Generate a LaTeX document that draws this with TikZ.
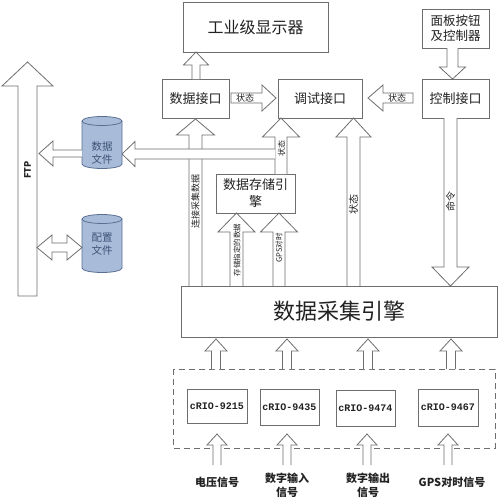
\documentclass[tikz,border=0pt]{standalone}
\usepackage{fontspec}
\setmainfont{Noto Sans CJK SC}
\newfontfamily\monof{Liberation Mono}
\definecolor{ln}{HTML}{6E6E6E}
\definecolor{tx}{HTML}{222222}
\definecolor{cylf}{HTML}{A8BCDA}
\definecolor{cyll}{HTML}{5A6F92}
\definecolor{cylt}{HTML}{3E5277}
\tikzset{
  box/.style={draw=ln, line width=0.8pt, fill=white, inner sep=0pt, text=tx, align=center},
  barrow/.style={draw=ln, line width=0.8pt, fill=white, line join=miter},
  lab/.style={text=tx, inner sep=0pt},
  rlab/.style={text=tx, inner sep=0pt, rotate=90},
  cylfill/.style={fill=cylf},
  cylline/.style={draw=cyll, line width=0.8pt}
}
% vertical arrow: x, y0, ytip, ybase, shafthalf, headhalf
\newcommand\varr[6]{\filldraw[barrow] (#1-#5,#2) -- (#1-#5,#4) -- (#1-#6,#4) -- (#1,#3) -- (#1+#6,#4) -- (#1+#5,#4) -- (#1+#5,#2);}
\newcommand\varrc[6]{\filldraw[barrow] (#1-#5,#2) -- (#1-#5,#4) -- (#1-#6,#4) -- (#1,#3) -- (#1+#6,#4) -- (#1+#5,#4) -- (#1+#5,#2) -- cycle;}
% horizontal arrow: y, x0, xtip, xbase, shafthalf, headhalf
\newcommand\harr[6]{\filldraw[barrow] (#2,#1-#5) -- (#4,#1-#5) -- (#4,#1-#6) -- (#3,#1) -- (#4,#1+#6) -- (#4,#1+#5) -- (#2,#1+#5);}
\newcommand\harrc[6]{\filldraw[barrow] (#2,#1-#5) -- (#4,#1-#5) -- (#4,#1-#6) -- (#3,#1) -- (#4,#1+#6) -- (#4,#1+#5) -- (#2,#1+#5) -- cycle;}
\newcommand\cylinder[3]{% x left, y top, y bottom
  \fill[cylfill] (#1,#2) -- (#1,#3) arc[start angle=180,end angle=360,x radius=20pt,y radius=4.5pt] -- (#1+40,#2) arc[start angle=0,end angle=180,x radius=20pt,y radius=4.5pt] -- cycle;
  \draw[cylline] (#1,#2) -- (#1,#3) arc[start angle=180,end angle=360,x radius=20pt,y radius=4.5pt] -- (#1+40,#2) arc[start angle=0,end angle=180,x radius=20pt,y radius=4.5pt] -- cycle;
  \draw[cylline] (#1,#2) arc[start angle=180,end angle=360,x radius=20pt,y radius=4.5pt];
}
\begin{document}
\begin{tikzpicture}[x=1pt,y=-1pt]
\useasboundingbox[fill=white] (0,0) rectangle (500,501);

% ---------- boxes ----------
\node[box, minimum width=145pt, minimum height=50pt, font=\fontsize{16}{18}\selectfont] (disp) at (255.5,27) {工业级显示器};
\node[box, minimum width=67pt, minimum height=39pt, font=\fontsize{12.5}{15}\selectfont] (panel) at (455.5,28.5) {面板按钮\\及控制器};
\node[box, minimum width=67pt, minimum height=39pt, font=\fontsize{13}{15}\selectfont] (dataif) at (195.5,98.5) {数据接口};
\node[box, minimum width=84pt, minimum height=39pt, font=\fontsize{13}{15}\selectfont] (dbgif) at (320,98.5) {调试接口};
\node[box, minimum width=67pt, minimum height=39pt, font=\fontsize{13}{15}\selectfont] (ctrlif) at (455.5,98.5) {控制接口};
\node[box, minimum width=79pt, minimum height=39pt, font=\fontsize{13}{17}\selectfont] (store) at (255.5,193.5) {数据存储引\\擎};

% ---------- arrows upper part ----------
\varr{196}{79}{52}{65}{4}{12.5}                 % dataif -> disp
\varr{452.5}{48}{79}{67}{5.5}{13}               % panel -> ctrlif
\harrc{98}{231}{276}{262}{5}{13}                % dataif -> dbgif
\node[lab, font=\fontsize{9}{9}\selectfont] (st1) at (245,98) {状态};
\harrc{98}{413}{368}{383}{5}{13}                % ctrlif -> dbgif
\node[lab, font=\fontsize{9}{9}\selectfont] (st2) at (397,98) {状态};

\varr{195.5}{287}{119}{135}{6.5}{19}            % acq -> dataif
\node[rlab, font=\fontsize{9}{9}\selectfont] (l1) at (195.5,201) {连接采集数据};
\varr{281}{174}{118}{137}{6}{18.5}              % store -> dbgif
\node[rlab, font=\fontsize{8}{8}\selectfont] (l2) at (281.5,148) {状态};
\harr{154}{275}{122}{135}{5}{12.5}              % -> data file
\varr{353.5}{287}{118}{137}{6.5}{17.5}          % acq -> dbgif
\node[rlab, font=\fontsize{10}{10}\selectfont] (l3) at (353.5,204) {状态};
\varr{450.5}{118}{286}{267}{6.5}{18.5}          % ctrlif -> acq
\node[rlab, font=\fontsize{10}{10}\selectfont] (l4) at (450.5,201) {命令};
\varr{236.5}{287}{213}{232}{6.5}{18.5}          % acq -> store
\node[rlab, font=\fontsize{7.5}{7.5}\selectfont] (l5) at (237,250) {存储指定的数据};
\varr{279}{287}{213}{232}{6}{18.5}              % acq -> store (GPS)
\node[rlab, font=\fontsize{7.5}{7.5}\selectfont] (l6) at (279,248) {GPS对时};

% ---------- left part ----------
\varrc{27.5}{296}{62}{86}{9.5}{25.5}            % FTP
\node[rlab, font=\fontsize{9}{9}\selectfont\bfseries] (ftp) at (27.5,170) {FTP};
\cylinder{82}{121}{164}
\node[lab, text=cylt, align=center, font=\fontsize{10.5}{13}\selectfont] (dfile) at (102,153) {数据\\文件};
\cylinder{82}{219}{268}
\node[lab, text=cylt, align=center, font=\fontsize{10.5}{13}\selectfont] (cfile) at (102,244) {配置\\文件};
\harr{153.5}{82}{39}{53}{3.5}{12.5}             % data file -> FTP
\filldraw[barrow] (37,247.5) -- (52,235) -- (52,243) -- (67,243) -- (67,235) -- (82,247.5) -- (67,260) -- (67,252) -- (52,252) -- (52,260) -- cycle;

% ---------- acquisition engine ----------
\node[box, minimum width=316pt, minimum height=51pt, font=\fontsize{22}{24}\selectfont] (acq) at (339,311.5) {数据采集引擎};

% ---------- modules ----------
\draw[ln, line width=0.8pt, dash pattern=on 6pt off 4pt] (173,369) rectangle (495,448);
\foreach \x in {216,287,368,451}{\varr{\x}{369}{339}{351}{4.5}{11}}
\node[box, minimum width=60pt, minimum height=34pt, font=\monof\bfseries\fontsize{10}{12}\selectfont] (c1) at (217,406) {cRIO-9215};
\node[box, minimum width=59pt, minimum height=36pt, font=\monof\bfseries\fontsize{10}{12}\selectfont] (c2) at (289.5,407.5) {cRIO-9435};
\node[box, minimum width=59pt, minimum height=36pt, font=\monof\bfseries\fontsize{10}{12}\selectfont] (c3) at (365.5,408) {cRIO-9474};
\node[box, minimum width=60pt, minimum height=37pt, font=\monof\bfseries\fontsize{10}{12}\selectfont] (c4) at (448,407.5) {cRIO-9467};
\foreach \x in {217,287,367,448}{\varr{\x}{465}{434}{445}{4}{10}}

\node[lab, font=\fontsize{11}{14}\selectfont\bfseries] (s1) at (217,482) {电压信号};
\node[lab, align=center, font=\fontsize{11}{14}\selectfont\bfseries] (s2) at (287,485) {数字输入\\信号};
\node[lab, align=center, font=\fontsize{11}{14}\selectfont\bfseries] (s3) at (368,485) {数字输出\\信号};
\node[lab, font=\fontsize{11}{14}\selectfont\bfseries] (s4) at (452,482) {GPS对时信号};
\end{tikzpicture}
\end{document}
